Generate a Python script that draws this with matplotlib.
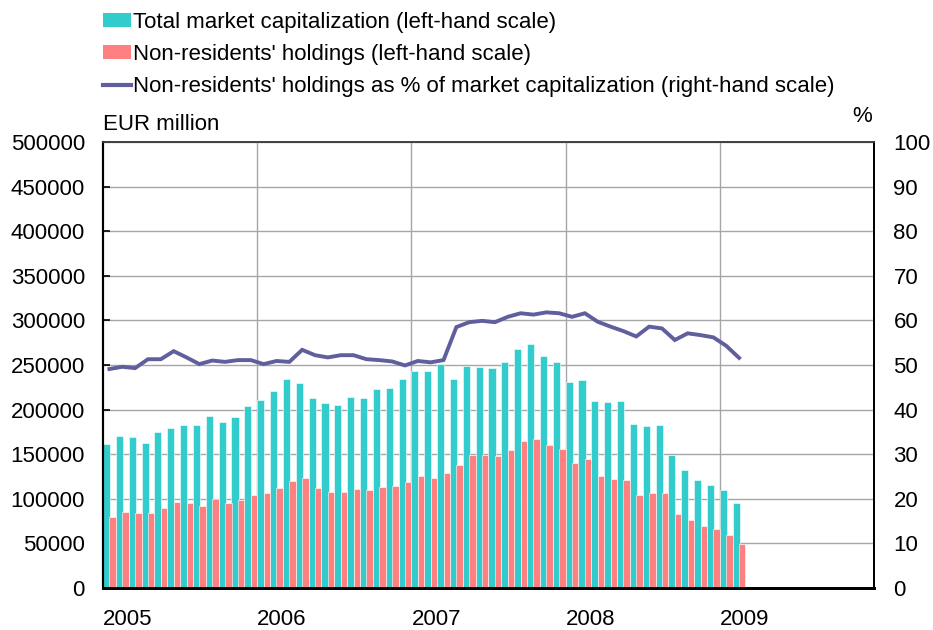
import numpy as np
import matplotlib.pyplot as plt
from matplotlib.patches import Patch
from matplotlib.lines import Line2D

plt.rcParams['font.family'] = ['Liberation Sans', 'DejaVu Sans']

# monthly data, Jan 2005 - Feb 2009 (EUR million)
total_cap = [161400, 170800, 169700, 162900, 174500, 179000, 182700, 182700, 193200, 186100, 192100, 204000,
             211000, 220500, 234300, 229800, 213400, 207400, 205200, 214500, 213400, 222700, 223900, 234300,
             243600, 243600, 251100, 234300, 248500, 247400, 246300, 253400, 268300, 273200, 260100, 253400,
             231000, 233200, 209600, 208500, 209600, 183900, 181600, 182700, 148800, 132300, 120700, 115800,
             110200, 94900]
nonres = [79200, 85600, 84400, 84000, 90000, 96400, 94900, 92300, 99800, 94900, 98700, 104300,
          106500, 112500, 119600, 122900, 112500, 107600, 107600, 111000, 109900, 113200, 114700, 118300,
          125600, 122900, 128900, 138300, 148800, 148800, 147600, 154700, 165100, 167400, 160300, 155800,
          140500, 144300, 125600, 121800, 120700, 104300, 106500, 106500, 83000, 76200, 69200, 65800,
          59800, 49300]
share_pct = [49.1, 49.6, 49.3, 51.3, 51.3, 53.1, 51.7, 50.2, 51.0, 50.7, 51.1, 51.1,
             50.2, 50.9, 50.7, 53.4, 52.2, 51.7, 52.2, 52.2, 51.3, 51.1, 50.8, 49.9,
             50.9, 50.6, 51.1, 58.5, 59.6, 59.9, 59.6, 60.8, 61.6, 61.3, 61.8, 61.6,
             60.8, 61.6, 59.7, 58.6, 57.6, 56.4, 58.6, 58.2, 55.6, 57.1, 56.7, 56.2,
             54.3, 51.6]
years = ['2005', '2006', '2007', '2008', '2009']

teal = '#33CCCC'
salmon = '#FF8080'
purple = '#5F5F9E'

months = np.arange(len(total_cap))

fig = plt.figure(figsize=(9.33, 6.3), dpi=100)
ax = fig.add_axes([103 / 933, 42 / 630, 771 / 933, 446 / 630])
ax2 = ax.twinx()

# bars
ax.bar(months, total_cap, width=0.55, align='edge', color=teal, edgecolor='white', linewidth=0.4, zorder=2)
ax.bar(months + 0.5, nonres, width=0.5, align='edge', color=salmon, edgecolor='white', linewidth=0.4, zorder=3)

# line on right axis
ax2.plot(months + 0.5, share_pct, color=purple, linewidth=2.8, solid_joinstyle='miter')

ax.set_xlim(0, 60)
ax.set_ylim(0, 500000)
ax2.set_ylim(0, 100)
ax.set_yticks(np.arange(0, 500001, 50000))
ax2.set_yticks(np.arange(0, 101, 10))

year_pos = np.arange(0, 49, 12)
ax.set_xticks(year_pos)
ax.set_xticklabels(years, ha='left')

# grid
ax.set_axisbelow(True)
ax.grid(True, color='#A6A6A6', linewidth=1.0)
ax.grid(False, axis='x')
for xv in year_pos[1:]:
    ax.axvline(xv, color='#A6A6A6', linewidth=1.0, zorder=1)

ax.tick_params(axis='y', direction='in', length=5, width=1.2, pad=13, labelsize=16)
ax.tick_params(axis='x', direction='in', length=5, width=1.2, pad=15, labelsize=16)
ax2.tick_params(axis='y', length=0, pad=14, labelsize=16)

for a in (ax, ax2):
    a.spines['top'].set_color('#404040')
    a.spines['top'].set_linewidth(1.2)
    a.spines['left'].set_linewidth(1.5)
    a.spines['right'].set_linewidth(1.3)
    a.spines['bottom'].set_linewidth(2.0)

fig.text(103 / 933, 1 - 124 / 630, 'EUR million', fontsize=16, va='center', ha='left')
fig.text(862 / 933, 1 - 116 / 630, '%', fontsize=16, va='center', ha='center')

handles = [Patch(facecolor=teal, edgecolor='none'),
           Patch(facecolor=salmon, edgecolor='none'),
           Line2D([0], [0], color=purple, linewidth=3)]
labels = ['Total market capitalization (left-hand scale)',
          "Non-residents' holdings (left-hand scale)",
          "Non-residents' holdings as % of market capitalization (right-hand scale)"]
fig.legend(handles, labels, loc='upper left', bbox_to_anchor=(94 / 933, 1 - 3 / 630),
           frameon=False, fontsize=16, handlelength=1.25, handleheight=0.55,
           handletextpad=0.1, labelspacing=0.5, borderaxespad=0)

fig.savefig('out.png', dpi=100)
